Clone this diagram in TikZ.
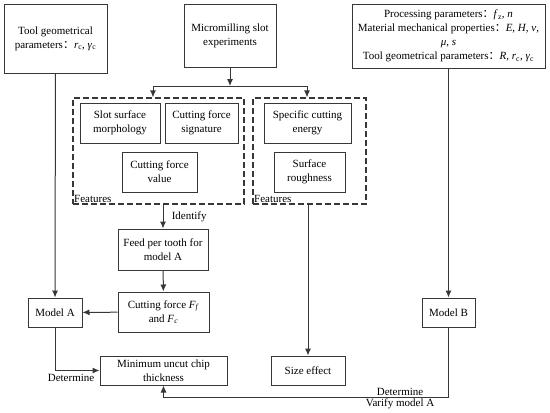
\documentclass[tikz,border=0pt]{standalone}
\usepackage{fontspec}
\setmainfont{Liberation Serif}
\newfontfamily\cjk{Noto Sans CJK SC}
\usetikzlibrary{shapes,arrows.meta,positioning,fit}
\definecolor{linegray}{RGB}{55,55,55}
\newcommand{\fwcolon}{{\cjk ：}}

\begin{document}
\begin{tikzpicture}[x=1pt, y=-1pt,
    font=\fontsize{11}{14}\selectfont,
    block/.style={draw=linegray, line width=1pt, rectangle, align=center, inner sep=0pt},
    dashbox/.style={draw=linegray, line width=1.1pt, dash pattern=on 6pt off 3pt, rectangle, inner sep=0pt},
    link/.style={draw=linegray, line width=1pt, -{Latex[length=7pt,width=6pt]}},
    plain/.style={draw=linegray, line width=1pt}]
        \useasboundingbox (0,0) rectangle (550,413);

        % Top row: inputs
        \node[block, minimum width=103pt, minimum height=69pt] (toolgeo) at (55.5,38.5)
            {Tool geometrical\\parameters\fwcolon\textit{r}\textsubscript{c}, \textit{γ}\textsubscript{c}};
        \node[block, minimum width=92pt, minimum height=63pt] (micro) at (230,35.5)
            {Micromilling slot\\experiments};
        \node[block, minimum width=193pt, minimum height=64pt] (inputs) at (448.5,36)
            {Processing parameters\fwcolon\textit{f}\textsubscript{z}, \textit{n}\\
             Material mechanical properties\fwcolon\textit{E}, \textit{H}, \textit{ν},\\
             \textit{μ}, \textit{s}\\
             Tool geometrical parameters\fwcolon\textit{R}, \textit{r}\textsubscript{c}, \textit{γ}\textsubscript{c}};

        % Feature groups (dashed)
        \node[dashbox, minimum width=171pt, minimum height=106pt] (featL) at (158.5,151) {};
        \node[dashbox, minimum width=113pt, minimum height=106pt] (featR) at (309.5,151) {};
        \node[anchor=south west, inner sep=1.5pt] (featLlab) at (featL.south west) {Features};
        \node[anchor=south west, inner sep=1.5pt] (featRlab) at (featR.south west) {Features};

        \node[block, minimum width=80pt, minimum height=40pt] (slot) at (120,123) {Slot surface\\morphology};
        \node[block, minimum width=73pt, minimum height=40pt] (signature) at (201.5,123) {Cutting force\\signature};
        \node[block, minimum width=75pt, minimum height=40pt] (forceval) at (159.5,172) {Cutting force\\value};
        \node[block, minimum width=87pt, minimum height=40pt] (energy) at (307.5,123) {Specific cutting\\energy};
        \node[block, minimum width=71pt, minimum height=40pt] (rough) at (309.5,172) {Surface\\roughness};

        % Models and results
        \node[block, minimum width=90pt, minimum height=41pt] (feed) at (163,249.5) {Feed per tooth for\\model A};
        \node[block, minimum width=91pt, minimum height=40pt] (force) at (163.5,312)
            {Cutting force \textit{F}\textsubscript{\textit{f}}\\and \textit{F}\textsubscript{\textit{c}}};
        \node[block, minimum width=54pt, minimum height=29pt] (modelA) at (55,312.5) {Model A};
        \node[block, minimum width=53pt, minimum height=29pt] (modelB) at (448.5,312.5) {Model B};
        \node[block, minimum width=127pt, minimum height=29pt] (minchip) at (163.5,370.5) {Minimum uncut chip\\thickness};
        \node[block, minimum width=74pt, minimum height=29pt] (size) at (308,370.5) {Size effect};

        % Connectors
        \coordinate (split) at (230,86);
        \draw[link] (micro) -- (split);
        \draw[link] (split) -| ([xshift=-5.5pt]featL.north);
        \draw[link] (split) -| ([xshift=-2.5pt]featR.north);
        \draw[link] (featL.south -| feed.north) -- node[right, xshift=5pt] {Identify} (feed.north);
        \draw[link] (feed) -- (force);
        \draw[link] (force) -- (modelA);
        \draw[link] (toolgeo) -- (modelA);
        \draw[link] (modelA.south) |- node[pos=0.5, below right, xshift=-11pt] {Determine} (minchip.west);
        \draw[link] (featR.south -| size.north) -- (size.north);
        \draw[link] (inputs.south -| modelB.north) -- (modelB.north);
        \draw[link] (modelB.south) -- ++(0,70)
            -| node[pos=0.085, above, inner sep=1pt] {Determine}
               node[pos=0.085, below, inner sep=1pt] {Varify model A} (minchip.south);
    \end{tikzpicture}
\end{document}
